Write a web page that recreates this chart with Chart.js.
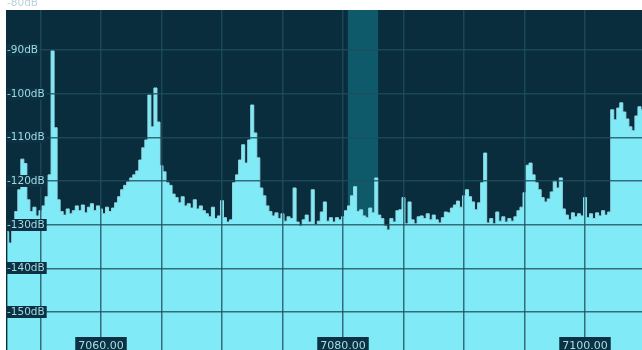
<!DOCTYPE html>
<html>
<head>
<meta charset="utf-8">
<script src="https://cdn.jsdelivr.net/npm/chart.js@4/dist/chart.umd.min.js"></script>
<style>
  html, body { margin: 0; padding: 0; background: #ffffff; }
  #spec { display: block; }
</style>
</head>
<body>
<canvas id="spec" width="642" height="350"></canvas>
<script>
// Spectrum bins (kHz) and levels (dB)
const freq = [
    7052.25, 7052.5, 7052.75, 7053, 7053.25, 7053.5, 7053.75, 7054,
    7054.25, 7054.5, 7054.75, 7055, 7055.25, 7055.5, 7055.75, 7056,
    7056.25, 7056.5, 7056.75, 7057, 7057.25, 7057.5, 7057.75, 7058,
    7058.25, 7058.5, 7058.75, 7059, 7059.25, 7059.5, 7059.75, 7060,
    7060.25, 7060.5, 7060.75, 7061, 7061.25, 7061.5, 7061.75, 7062,
    7062.25, 7062.5, 7062.75, 7063, 7063.25, 7063.5, 7063.75, 7064,
    7064.25, 7064.5, 7064.75, 7065, 7065.25, 7065.5, 7065.75, 7066,
    7066.25, 7066.5, 7066.75, 7067, 7067.25, 7067.5, 7067.75, 7068,
    7068.25, 7068.5, 7068.75, 7069, 7069.25, 7069.5, 7069.75, 7070,
    7070.25, 7070.5, 7070.75, 7071, 7071.25, 7071.5, 7071.75, 7072,
    7072.25, 7072.5, 7072.75, 7073, 7073.25, 7073.5, 7073.75, 7074,
    7074.25, 7074.5, 7074.75, 7075, 7075.25, 7075.5, 7075.75, 7076,
    7076.25, 7076.5, 7076.75, 7077, 7077.25, 7077.5, 7077.75, 7078,
    7078.25, 7078.5, 7078.75, 7079, 7079.25, 7079.5, 7079.75, 7080,
    7080.25, 7080.5, 7080.75, 7081, 7081.25, 7081.5, 7081.75, 7082,
    7082.25, 7082.5, 7082.75, 7083, 7083.25, 7083.5, 7083.75, 7084,
    7084.25, 7084.5, 7084.75, 7085, 7085.25, 7085.5, 7085.75, 7086,
    7086.25, 7086.5, 7086.75, 7087, 7087.25, 7087.5, 7087.75, 7088,
    7088.25, 7088.5, 7088.75, 7089, 7089.25, 7089.5, 7089.75, 7090,
    7090.25, 7090.5, 7090.75, 7091, 7091.25, 7091.5, 7091.75, 7092,
    7092.25, 7092.5, 7092.75, 7093, 7093.25, 7093.5, 7093.75, 7094,
    7094.25, 7094.5, 7094.75, 7095, 7095.25, 7095.5, 7095.75, 7096,
    7096.25, 7096.5, 7096.75, 7097, 7097.25, 7097.5, 7097.75, 7098,
    7098.25, 7098.5, 7098.75, 7099, 7099.25, 7099.5, 7099.75, 7100,
    7100.25, 7100.5, 7100.75, 7101, 7101.25, 7101.5, 7101.75, 7102,
    7102.25, 7102.5, 7102.75, 7103, 7103.25, 7103.5, 7103.75, 7104,
    7104.25, 7104.5, 7104.75
];
const level = [
    -131.6, -134.2, -129.8, -127, -122, -115, -116, -124.3,
    -127, -126, -128, -126.8, -125.7, -123.6, -118.6, -90.2,
    -107.8, -124.3, -127, -127.8, -126.4, -127.5, -126.8, -125.7,
    -126.8, -125.5, -127.3, -126, -125.2, -126.8, -125.7, -126.4,
    -127.5, -126, -127, -126.2, -125, -123.6, -122, -121,
    -120.2, -119.3, -118.6, -117.7, -115.2, -112.4, -110.6, -100.3,
    -107.6, -98.7, -106.5, -116.5, -117.9, -120.4, -121, -123,
    -123.8, -125, -123.6, -125.7, -125.2, -126.2, -124.3, -126.4,
    -125.7, -126.8, -127.5, -128.2, -126, -128.6, -128, -124.5,
    -128.4, -129.4, -128.9, -120.4, -118.6, -115.2, -111.7, -115.9,
    -110.6, -102.6, -109, -114.7, -121.6, -123.4, -125.7, -127,
    -128, -127.3, -128.6, -127.5, -129.2, -128.2, -128.6, -121.6,
    -129.4, -130.3, -128.9, -127.8, -129.4, -122, -130, -129.2,
    -127.1, -124.8, -129.2, -128.4, -129.4, -128.4, -128.9, -128.2,
    -126.8, -125.7, -123.4, -121.3, -127, -126.6, -128, -128.4,
    -126.2, -127.3, -119.3, -127.8, -128.6, -130.3, -131.2, -128.6,
    -129.4, -126.8, -126.6, -123.8, -129.8, -124.8, -128.9, -129.8,
    -128.2, -128, -128.6, -127.5, -128.9, -127.8, -128.9, -129.6,
    -128.4, -127.1, -127.3, -126.2, -125.5, -124.6, -126, -123.4,
    -122, -123.6, -124.8, -126.6, -125, -120.4, -113.6, -129.6,
    -128.6, -129.8, -127.1, -129.2, -128.2, -129.4, -128.6, -129.2,
    -128.2, -126.8, -126, -122.7, -116.4, -115.9, -118.6, -120.4,
    -122, -123.8, -124.8, -124.1, -122.5, -120, -121.6, -119.3,
    -126.4, -127.8, -128.9, -127.3, -128.2, -127.5, -128, -123.8,
    -128.4, -127.5, -128.6, -127.3, -128, -126.8, -127.8, -127.1,
    -103.7, -106, -103.3, -102.1, -104.2, -105.8, -107.6, -108.5,
    -105.1, -103, -103.7
];

// Axis labels
const yTicks = [-80, -90, -100, -110, -120, -130, -140, -150];
const xTicks = [7060, 7080, 7100];

// Receive passband (kHz)
const bandStart = 7080.4;
const bandEnd = 7082.9;

// Background + passband highlight, under the trace
const backdrop = {
    id: 'backdrop',
    beforeDraw(chart) {
        const ctx = chart.ctx;
        const a = chart.chartArea;
        ctx.save();
        ctx.fillStyle = '#ffffff';
        ctx.fillRect(0, 0, chart.width, chart.height);
        ctx.fillStyle = '#0a2d3d';
        ctx.fillRect(a.left, a.top, a.right - a.left, a.bottom - a.top);
        ctx.restore();
    },
    beforeDatasetsDraw(chart) {
        const ctx = chart.ctx;
        const a = chart.chartArea;
        const xs = chart.scales.x;
        let x0 = xs.getPixelForValue(bandStart);
        let x1 = xs.getPixelForValue(bandEnd);
        ctx.save();
        ctx.fillStyle = '#0f5a6a';
        ctx.fillRect(x0, a.top, x1 - x0, a.bottom - a.top);
        ctx.restore();
    }
};

// Boxed labels drawn inside the plot, like the receiver display
const boxedLabels = {
    id: 'boxedLabels',
    afterDraw(chart) {
        const ctx = chart.ctx;
        const a = chart.chartArea;
        const xs = chart.scales.x;
        const ys = chart.scales.y;
        ctx.save();
        ctx.textBaseline = 'middle';

        ctx.font = '10.5px "DejaVu Sans"';
        yTicks.forEach(function (v) {
            let y = Math.round(ys.getPixelForValue(v));
            let txt = v + 'dB';
            let w = ctx.measureText(txt).width;
            ctx.textAlign = 'left';
            if (y < a.top) {
                // top label sits half off the display, no box
                ctx.fillStyle = '#b7d3d9';
                ctx.fillText(txt, 7, y - 3);
                return;
            }
            ctx.fillStyle = '#0b3142';
            ctx.fillRect(6, y - 6, w + 3, 12);
            ctx.fillStyle = '#9fd9e2';
            ctx.fillText(txt, 7, y);
        });

        ctx.font = '11px "DejaVu Sans"';
        xTicks.forEach(function (v) {
            let x = Math.round(xs.getPixelForValue(v));
            let txt = v.toFixed(2);
            let w = ctx.measureText(txt).width;
            ctx.fillStyle = '#0b3142';
            ctx.fillRect(x - w / 2 - 3, 337, w + 6, 16);
            ctx.fillStyle = '#a6dde6';
            ctx.textAlign = 'center';
            ctx.fillText(txt, x, 346);
        });
        ctx.restore();
    }
};

const points = freq.map(function (f, i) { return {x: f, y: level[i]}; });

new Chart(document.getElementById('spec'), {
    type: 'line',
    data: {
        datasets: [{
            data: points,
            stepped: 'middle',
            fill: 'start',
            backgroundColor: '#80eaf7',
            borderColor: '#8fdbe6',
            borderWidth: 1,
            pointRadius: 0,
        }]
    },
    options: {
        responsive: false,
        animation: false,
        devicePixelRatio: 1,
        layout: { padding: { left: 6, top: 10, right: 0, bottom: 0 } },
        plugins: {
            legend: { display: false },
            tooltip: { enabled: false },
        },
        scales: {
            x: {
                type: 'linear',
                min: 7052.15,
                max: 7104.71,
                border: { display: false },
                ticks: { display: false, stepSize: 5, includeBounds: false },
                grid: { color: 'rgba(29, 78, 94, 0.8)', lineWidth: 1.5, drawTicks: false, z: 1 },
            },
            y: {
                min: -158.7,
                max: -80.85,
                border: { display: false },
                ticks: { display: false, stepSize: 10, includeBounds: false },
                grid: { color: 'rgba(29, 78, 94, 0.8)', lineWidth: 1.5, drawTicks: false, z: 1 },
            }
        }
    },
    plugins: [backdrop, boxedLabels]
});
</script>
</body>
</html>
